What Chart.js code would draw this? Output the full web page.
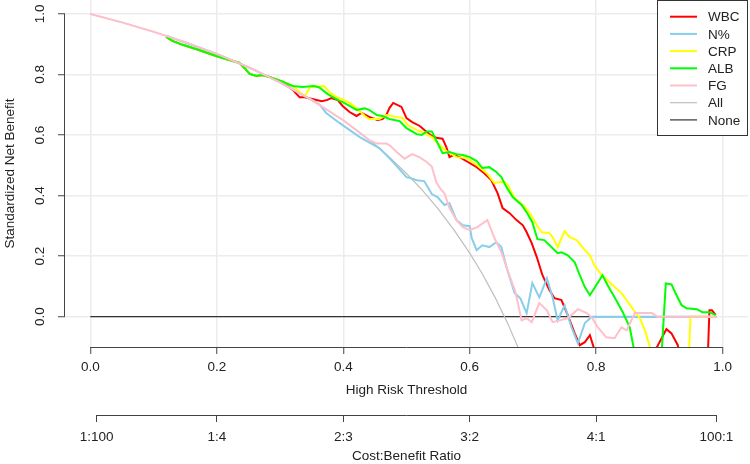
<!DOCTYPE html>
<html>
<head>
<meta charset="utf-8">
<title>Decision curve</title>
<script src="https://cdn.jsdelivr.net/npm/chart.js@4.4.0/dist/chart.umd.min.js"></script>
<style>
  html, body { margin: 0; padding: 0; background: #fff; }
</style>
</head>
<body>
<canvas id="dca" width="750" height="464"></canvas>
<script>
// Axis ticks
const thresholdTicks = [0, 0.2, 0.4, 0.6, 0.8, 1.0];
const yTicks = [0, 0.2, 0.4, 0.6, 0.8, 1.0];
const costBenefitAt = [1 / 101, 0.2, 0.4, 0.6, 0.8, 100 / 101];
const costBenefitLabels = ['1:100', '1:4', '2:3', '3:2', '4:1', '100:1'];

// Series (threshold, standardized net benefit)
const wbcT = [0.120,0.130,0.146,0.172,0.199,0.220,0.236,0.244,0.252,0.263,0.272,0.283,0.304,
  0.320,0.331,0.339,0.351,0.366,0.375,0.381,0.391,0.399,0.410,0.421,0.429,0.441,0.454,0.462,0.468,0.473,0.479,
  0.492,0.500,0.509,0.521,0.532,0.540,0.549,0.557,0.563,0.568,0.574,0.584,0.597,0.611,0.623,0.634,0.644,0.652,
  0.663,0.674,0.684,0.690,0.698,0.706,0.715,0.726,0.734,0.745,0.755,0.766,0.774,0.782,0.790,0.796,0.802,0.881,
  0.911,0.919,0.929,0.935,0.976,0.979,0.983,0.989];
const wbcV = [0.924,0.911,0.898,0.881,0.861,0.848,0.838,0.821,0.802,0.795,0.798,0.792,0.776,
  0.749,0.725,0.725,0.719,0.712,0.716,0.722,0.716,0.696,0.676,0.663,0.673,0.660,0.650,0.653,0.666,0.689,0.706,
  0.693,0.656,0.643,0.630,0.610,0.597,0.590,0.588,0.560,0.527,0.534,0.527,0.511,0.494,0.474,0.451,0.408,0.359,
  0.342,0.319,0.302,0.279,0.243,0.197,0.137,0.088,0.061,0.055,0.005,-0.055,-0.094,-0.084,-0.061,-0.101,-0.160,-0.160,
  -0.041,-0.055,-0.094,-0.160,-0.160,0.021,0.021,0.005];

const nT = [0.120,0.200,0.250,0.300,0.350,0.362,0.373,0.394,0.426,0.457,0.473,0.486,0.500,0.509,0.516,
  0.528,0.540,0.549,0.560,0.568,0.579,0.589,0.600,0.603,0.611,0.620,0.631,0.642,0.650,0.658,
  0.671,0.680,0.690,0.699,0.710,0.722,0.731,0.739,0.750,0.761,0.771,0.782,0.793,0.990];
const nV = [0.928,0.868,0.824,0.774,0.716,0.702,0.673,0.640,0.593,0.557,0.524,0.494,0.461,0.456,0.451,
  0.448,0.405,0.395,0.369,0.375,0.319,0.302,0.299,0.260,0.220,0.236,0.230,0.246,0.230,0.164,
  0.078,0.061,0.012,0.111,0.064,0.127,0.064,-0.012,0.038,-0.035,-0.088,-0.021,0.000,0.000];

const crpT = [0.120,0.130,0.146,0.172,0.199,0.220,0.236,0.244,0.252,0.263,0.272,0.283,0.304,0.320,
  0.331,0.339,0.348,0.370,0.378,0.389,0.397,0.410,0.421,0.434,0.441,0.457,0.468,0.484,0.494,
  0.502,0.516,0.525,0.540,0.549,0.563,0.579,0.595,0.611,0.627,0.639,0.647,0.655,0.660,0.671,
  0.684,0.695,0.706,0.714,0.726,0.731,0.739,0.750,0.758,0.769,0.782,0.790,0.797,0.809,0.821,
  0.840,0.856,0.869,0.877,0.884,0.892,0.946,0.949,0.990];
const crpV = [0.924,0.911,0.898,0.881,0.861,0.848,0.838,0.821,0.802,0.795,0.798,0.792,0.776,0.762,
  0.742,0.729,0.759,0.762,0.742,0.726,0.719,0.706,0.689,0.663,0.653,0.653,0.666,0.660,0.656,
  0.633,0.617,0.610,0.593,0.574,0.547,0.527,0.524,0.501,0.474,0.441,0.445,0.446,0.435,0.392,
  0.369,0.342,0.302,0.279,0.276,0.263,0.230,0.283,0.263,0.253,0.220,0.203,0.170,0.137,0.114,
  0.078,0.031,-0.005,-0.045,-0.094,-0.144,-0.160,0.000,0.000];

const albT = [0.120,0.130,0.146,0.172,0.199,0.220,0.236,0.244,0.252,0.263,0.272,0.283,0.304,0.320,0.335,
  0.354,0.362,0.375,0.383,0.391,0.399,0.410,0.421,0.434,0.441,0.453,0.462,0.473,0.489,0.500,
  0.516,0.524,0.532,0.540,0.547,0.557,0.568,0.579,0.589,0.600,0.611,0.620,0.631,0.642,0.650,
  0.658,0.668,0.682,0.691,0.699,0.707,0.718,0.729,0.739,0.745,0.755,0.766,0.774,0.782,0.790,
  0.797,0.810,0.818,0.829,0.842,0.853,0.869,0.899,0.910,0.919,0.927,0.935,0.943,0.959,0.968,0.979,0.989];
const albV = [0.924,0.911,0.898,0.881,0.861,0.848,0.838,0.821,0.802,0.795,0.798,0.792,0.776,0.762,0.759,
  0.762,0.757,0.736,0.726,0.716,0.709,0.696,0.683,0.688,0.683,0.666,0.663,0.653,0.646,0.623,
  0.603,0.600,0.612,0.612,0.583,0.540,0.544,0.537,0.534,0.527,0.514,0.491,0.494,0.478,0.461,
  0.428,0.395,0.369,0.342,0.312,0.256,0.253,0.230,0.210,0.213,0.203,0.180,0.137,0.098,0.071,
  0.094,0.137,0.104,0.064,0.015,-0.035,-0.210,-0.276,0.110,0.107,0.071,0.038,0.028,0.025,0.015,0.015,0.005];

const fgT = [0,0.05,0.1,0.15,0.2,0.25,0.3,0.35,0.4,0.441,0.453,0.468,0.473,0.484,0.497,
  0.509,0.521,0.532,0.540,0.547,0.554,0.560,0.568,0.579,0.589,0.600,0.612,0.628,0.639,0.650,
  0.663,0.672,0.682,0.690,0.698,0.710,0.722,0.731,0.742,0.755,0.771,0.785,0.794,0.801,0.816,
  0.829,0.840,0.848,0.861,0.888,0.897,0.990];
const fgV = [1.000,0.972,0.941,0.907,0.868,0.824,0.774,0.716,0.649,0.583,0.572,0.572,0.567,0.545,0.522,
  0.537,0.526,0.511,0.496,0.445,0.421,0.408,0.359,0.319,0.296,0.286,0.296,0.319,0.260,0.213,
  0.134,0.084,-0.012,-0.005,-0.018,0.045,0.021,-0.018,-0.012,-0.005,0.025,0.012,-0.005,-0.031,-0.068,
  -0.071,-0.035,-0.045,0.012,0.012,0.000,0.000];

const allT = [0,0.05,0.1,0.15,0.2,0.25,0.3,0.35,0.4,0.425,0.45,0.475,0.5,0.525,0.55,0.575,0.6,0.62,0.64,0.66,0.68];
const allV = [1.000,0.972,0.941,0.907,0.868,0.824,0.774,0.716,0.649,0.611,0.569,0.523,0.473,0.418,0.356,0.287,0.210,0.141,0.064,-0.022,-0.119];

const noneT = [0, 0.99];
const noneV = [0, 0];

const FONT = "'Liberation Sans', Arial, sans-serif";
const INK = '#222';
const AXIS = '#444';
const GRID = '#ececec';

function toPoints(ts, vs) {
    return ts.map((t, i) => ({ x: t, y: vs[i] }));
}

function curve(label, ts, vs, color, width, order) {
    return {
        label: label,
        data: toPoints(ts, vs),
        borderColor: color,
        backgroundColor: color,
        borderWidth: width,
        pointRadius: 0,
        tension: 0,
        fill: false,
        clip: 0,
        order: order
    };
}

// R-style axis lines: only between the first and last tick
const rAxes = {
    id: 'rAxes',
    afterDraw(chart) {
        const { ctx, scales } = chart;
        const { x, x2, y } = scales;
        ctx.save();
        ctx.strokeStyle = AXIS;
        ctx.lineWidth = 1;
        const seg = (x0, y0, x1, y1) => {
            ctx.beginPath();
            ctx.moveTo(x0, y0);
            ctx.lineTo(x1, y1);
            ctx.stroke();
        };
        seg(x.getPixelForValue(0), x.top + 0.5, x.getPixelForValue(1), x.top + 0.5);
        seg(x2.getPixelForValue(costBenefitAt[0]), x2.top + 0.5,
            x2.getPixelForValue(costBenefitAt[costBenefitAt.length - 1]), x2.top + 0.5);
        seg(y.right - 0.5, y.getPixelForValue(0), y.right - 0.5, y.getPixelForValue(1));
        ctx.restore();
    }
};

// Boxed legend in the top right corner of the plot
const boxLegend = {
    id: 'boxLegend',
    afterDraw(chart) {
        const { ctx, chartArea } = chart;
        const w = 91, h = 136, rowH = 17.2;
        const left = chartArea.right - w;
        const top = chartArea.top;
        ctx.save();
        ctx.fillStyle = '#fff';
        ctx.fillRect(left, top, w, h);
        ctx.strokeStyle = '#333';
        ctx.lineWidth = 1;
        ctx.strokeRect(left + 0.5, top + 0.5, w - 1, h - 1);
        ctx.font = '13.5px ' + FONT;
        ctx.textBaseline = 'middle';
        ctx.textAlign = 'left';
        chart.data.datasets.forEach((ds, i) => {
            const cy = top + 16.7 + i * rowH;
            ctx.strokeStyle = ds.borderColor;
            ctx.lineWidth = ds.borderWidth;
            ctx.beginPath();
            ctx.moveTo(left + 13, cy);
            ctx.lineTo(left + 40, cy);
            ctx.stroke();
            ctx.fillStyle = INK;
            ctx.fillText(ds.label, left + 51, cy + 1);
        });
        ctx.restore();
    }
};

const tickFont = { family: FONT, size: 13.5 };
const titleFont = { family: FONT, size: 13.5 };

const chart = new Chart(document.getElementById('dca'), {
    type: 'line',
    data: {
        datasets: [
            curve('WBC', wbcT, wbcV, '#ff0000', 2, 4),
            curve('N%', nT, nV, '#87ceeb', 2, 3),
            curve('CRP', crpT, crpV, '#ffff00', 2, 2),
            curve('ALB', albT, albV, '#00ff00', 2, 1),
            curve('FG', fgT, fgV, '#ffc0cb', 2, 0),
            curve('All', allT, allV, '#bebebe', 1.2, 5),
            curve('None', noneT, noneV, '#333333', 1.2, 6)
        ]
    },
    options: {
        responsive: false,
        animation: false,
        layout: { padding: { left: 0, right: 2, top: 0, bottom: 0 } },
        plugins: {
            legend: { display: false },
            tooltip: { enabled: false }
        },
        scales: {
            x: {
                type: 'linear',
                position: 'bottom',
                weight: 0,
                min: -0.04,
                max: 1.04,
                afterBuildTicks: s => { s.ticks = thresholdTicks.map(v => ({ value: v })); },
                afterFit: s => { s.height = 68; s.paddingLeft = 0; s.paddingRight = 0; },
                ticks: {
                    padding: 5,
                    color: INK,
                    font: tickFont,
                    maxRotation: 0,
                    autoSkip: false,
                    callback: v => v.toFixed(1)
                },
                grid: { color: GRID, lineWidth: 1.5, tickColor: AXIS, tickLength: 7, tickWidth: 1 },
                border: { display: false },
                title: {
                    display: true,
                    text: 'High Risk Threshold',
                    color: INK,
                    font: titleFont,
                    padding: { top: 0, bottom: 17 }
                }
            },
            x2: {
                type: 'linear',
                axis: 'x',
                position: 'bottom',
                weight: 1,
                min: -0.04,
                max: 1.04,
                afterBuildTicks: s => { s.ticks = costBenefitAt.map(v => ({ value: v })); },
                afterFit: s => { s.height = 49; s.paddingLeft = 0; s.paddingRight = 0; },
                ticks: {
                    padding: 7,
                    color: INK,
                    font: tickFont,
                    maxRotation: 0,
                    autoSkip: false,
                    callback: (v, i) => costBenefitLabels[i]
                },
                grid: { drawOnChartArea: false, tickColor: AXIS, tickLength: 7, tickWidth: 1 },
                border: { display: false },
                title: {
                    display: true,
                    text: 'Cost:Benefit Ratio',
                    color: INK,
                    font: titleFont,
                    padding: { top: 0, bottom: 0 }
                }
            },
            y: {
                type: 'linear',
                position: 'left',
                min: -0.1,
                max: 1.046,
                afterBuildTicks: s => { s.ticks = yTicks.map(v => ({ value: v })); },
                afterFit: s => { s.width = 65; s.paddingTop = 0; s.paddingBottom = 0; },
                ticks: {
                    padding: 8,
                    color: INK,
                    font: tickFont,
                    minRotation: 90,
                    maxRotation: 90,
                    crossAlign: 'center',
                    autoSkip: false,
                    callback: v => v.toFixed(1)
                },
                grid: { color: GRID, lineWidth: 1.5, tickColor: AXIS, tickLength: 7, tickWidth: 1 },
                border: { display: false },
                title: {
                    display: true,
                    text: 'Standardized Net Benefit',
                    color: INK,
                    font: titleFont,
                    padding: { top: 2, bottom: 0 }
                }
            }
        }
    },
    plugins: [rAxes, boxLegend]
});
</script>
</body>
</html>
